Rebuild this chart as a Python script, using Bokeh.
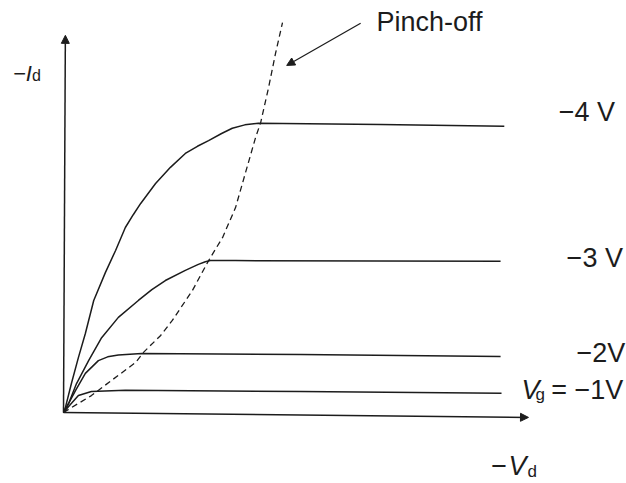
from bokeh.plotting import figure
from bokeh.models import Range1d, Arrow, NormalHead
from bokeh.core.properties import value
from bokeh.embed import file_html
from bokeh.resources import INLINE

# ---- data (arbitrary units): x = -Vd, y = -Id ----
vd_m4 = [0, 0.04, 0.17, 0.32, 0.47, 0.65, 0.90, 1.12, 1.33, 1.50, 1.66, 1.98, 2.30, 2.62, 2.88, 3.12, 3.40, 3.63, 3.90, 4.19, 6.82, 9.48]
id_m4 = [0, 0.13, 0.77, 1.46, 2.10, 2.98, 3.72, 4.31, 4.92, 5.26, 5.56, 6.09, 6.52, 6.89, 7.08, 7.23, 7.42, 7.56, 7.65, 7.69, 7.66, 7.61]

vd_m3 = [0, 0.11, 0.28, 0.54, 0.82, 1.18, 1.61, 1.90, 2.19, 2.62, 2.90, 3.05, 3.16, 3.70, 9.40]
id_m3 = [0, 0.24, 0.77, 1.38, 1.99, 2.53, 2.98, 3.27, 3.51, 3.78, 3.94, 4.01, 4.04, 4.04, 4.02]

vd_m2 = [0, 0.11, 0.26, 0.47, 0.75, 0.95, 1.18, 1.68, 5.10, 9.40]
id_m2 = [0, 0.24, 0.59, 1.04, 1.38, 1.48, 1.53, 1.57, 1.54, 1.49]

vd_m1 = [0, 0.11, 0.32, 0.60, 1.33, 5.10, 9.42]
id_m1 = [0, 0.16, 0.45, 0.56, 0.59, 0.56, 0.51]

vd_pinch = [0, 0.17, 0.60, 1.03, 1.55, 1.72, 2.09, 2.34, 2.77, 3.12, 3.42, 3.70, 3.91, 4.13, 4.24, 4.41, 4.56, 4.71]
id_pinch = [0, 0.13, 0.45, 0.85, 1.33, 1.60, 2.05, 2.45, 3.24, 4.04, 4.65, 5.45, 6.36, 7.31, 7.71, 8.64, 9.55, 10.37]

curve_labels = ["\u22124 V", "\u22123 V", "\u22122V"]
pinch_label = "Pinch-off"

INK = "#1c1c1c"
FONT = value("Liberation Sans")

p = figure(width=626, height=483, output_backend="svg", toolbar_location=None,
           x_range=Range1d(-1.355, 12.108), y_range=Range1d(-1.888, 10.957),
           min_border=0, min_border_left=0, min_border_right=0,
           min_border_top=0, min_border_bottom=0)
p.axis.visible = False
p.grid.visible = False
p.outline_line_color = None
p.background_fill_color = "white"
p.border_fill_color = "white"

# axes with arrow heads
p.add_layout(Arrow(end=NormalHead(size=8, fill_color=INK, line_color=INK, line_width=1),
                   x_start=0, y_start=0, x_end=0.04, y_end=10.03,
                   line_color=INK, line_width=1.5))
p.add_layout(Arrow(end=NormalHead(size=8, fill_color=INK, line_color=INK, line_width=1),
                   x_start=0, y_start=0, x_end=10.0, y_end=-0.13,
                   line_color=INK, line_width=1.5))

# characteristic curves
for xs, ys in [(vd_m4, id_m4), (vd_m3, id_m3), (vd_m2, id_m2), (vd_m1, id_m1)]:
    p.line(xs, ys, line_color=INK, line_width=1.5, line_join="round")

# pinch-off locus
p.line(vd_pinch, id_pinch, line_color=INK, line_width=1.3, line_dash="6 4")

# pinch-off pointer
p.add_layout(Arrow(end=NormalHead(size=8, fill_color=INK, line_color=INK, line_width=1),
                   x_start=6.39, y_start=10.35, x_end=4.80, y_end=9.23,
                   line_color=INK, line_width=1.2))

def txt(x, y, s, size="27px", style="normal"):
    p.text(x=[x], y=[y], text=[s], text_font=FONT, text_font_size=size,
           text_font_style=style, text_color=INK, text_align="left",
           text_baseline="alphabetic")

txt(6.73, 10.38, pinch_label)
txt(10.65, 7.98, curve_labels[0])
txt(10.82, 4.10, curve_labels[1])
txt(11.03, 1.57, curve_labels[2])

# V_g = -1V
txt(9.85, 0.59, "V", style="italic")
txt(10.15, 0.48, "g", size="17px")
txt(10.49, 0.59, "= \u22121V")

# -V_d
txt(9.20, -1.41, "\u2212")
txt(9.57, -1.41, "V", style="italic")
txt(9.98, -1.57, "d", size="17px")

# -I_d
txt(-1.08, 9.02, "\u2212", size="22px")
txt(-0.81, 9.02, "I", size="22px", style="italic")
txt(-0.68, 8.97, "d", size="16px")

open("out.html", "w").write(file_html(p, INLINE))
